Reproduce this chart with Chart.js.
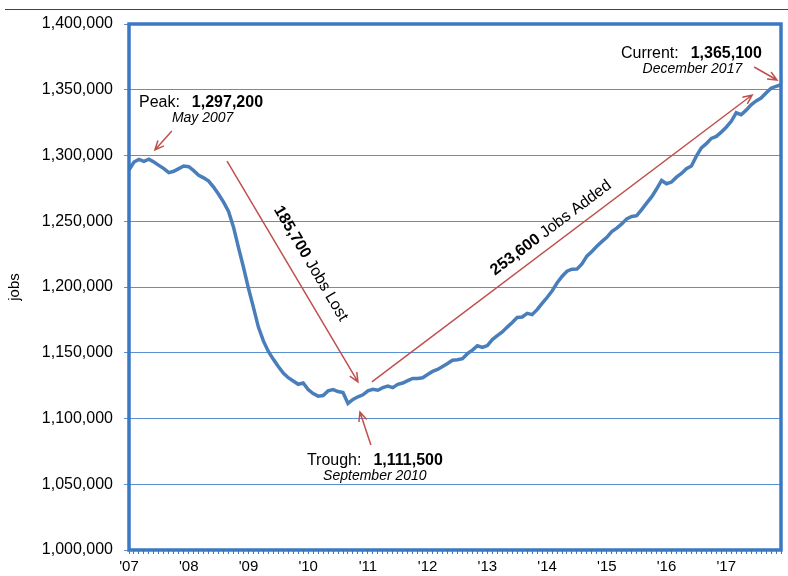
<!DOCTYPE html>
<html>
<head>
<meta charset="utf-8">
<script src="https://cdn.jsdelivr.net/npm/chart.js@4.4.1/dist/chart.umd.min.js"></script>
<style>
  html, body { margin: 0; padding: 0; background: #fff; }
  #wrap { width: 788px; height: 576px; }
</style>
</head>
<body>
<div id="wrap"><canvas id="chartJobs" width="788" height="576"></canvas></div>
<script>
// Monthly jobs, Jan 2007 - Dec 2017
const years = ['2007','2008','2009','2010','2011','2012','2013','2014','2015','2016','2017'];
const monthNames = ['Jan','Feb','Mar','Apr','May','Jun','Jul','Aug','Sep','Oct','Nov','Dec'];
const yearLabels = ["'07","'08","'09","'10","'11","'12","'13","'14","'15","'16","'17"];

const jobs2007 = [1289000, 1295000, 1297000, 1295500, 1297200, 1295000, 1292500, 1290000, 1287000, 1288000, 1290000, 1292000];
const jobs2008 = [1291500, 1288500, 1285000, 1283000, 1280500, 1276000, 1270500, 1264500, 1257500, 1245500, 1230000, 1215000];
const jobs2009 = [1199000, 1184500, 1169500, 1159000, 1151000, 1145000, 1139500, 1134500, 1131000, 1128500, 1126000, 1127000];
const jobs2010 = [1122000, 1119000, 1117000, 1117500, 1121000, 1122000, 1120500, 1119800, 1111500, 1114500, 1116500, 1118000];
const jobs2011 = [1121000, 1122200, 1121500, 1123500, 1124700, 1123500, 1126000, 1127000, 1128800, 1130500, 1130500, 1131000];
const jobs2012 = [1133500, 1135800, 1137300, 1139500, 1141800, 1144300, 1144700, 1145500, 1149300, 1152000, 1155300, 1154000];
const jobs2013 = [1155500, 1160000, 1163000, 1165800, 1169500, 1173000, 1176800, 1177200, 1180000, 1179000, 1182800, 1187500];
const jobs2014 = [1192000, 1197000, 1203000, 1208000, 1212000, 1213500, 1213600, 1217500, 1223500, 1227000, 1231000, 1234500];
const jobs2015 = [1237800, 1242200, 1244800, 1248000, 1251800, 1253600, 1254200, 1258800, 1263800, 1268500, 1274500, 1281000];
const jobs2016 = [1278500, 1279800, 1283500, 1286300, 1290000, 1292000, 1299500, 1305800, 1309000, 1313000, 1314500, 1317800];
const jobs2017 = [1321500, 1326000, 1332500, 1331000, 1334500, 1338500, 1341500, 1343700, 1347500, 1351200, 1352500, 1353800];

const jobs = [].concat(jobs2007, jobs2008, jobs2009, jobs2010, jobs2011, jobs2012,
                       jobs2013, jobs2014, jobs2015, jobs2016, jobs2017);

const months = [];
years.forEach(y => monthNames.forEach(m => months.push(m + ' ' + y)));

const FONT = 'Arial, "Liberation Sans", sans-serif';
const BLUE = '#3b78c4';
const RED = '#c0504d';

// annotation arrows, in data units [month index, jobs] -> [month index, jobs]
const arrowPeak    = [8.6, 1318600, 5.2, 1304200];
const arrowLost    = [19.7, 1295800, 46.0, 1127800];
const arrowAdded   = [48.8, 1127800, 125.2, 1346000];
const arrowTrough  = [48.6, 1079800, 46.4, 1104900];
const arrowCurrent = [125.6, 1367300, 130.2, 1357400];

function drawRuns(ctx, runs, x, y, align) {
  let total = 0;
  runs.forEach(r => { ctx.font = r.font; total += ctx.measureText(r.text).width + (r.gap || 0); });
  let cx = align === 'left' ? x : (align === 'center' ? x - total / 2 : x - total);
  runs.forEach(r => {
    ctx.font = r.font;
    ctx.fillText(r.text, cx, y);
    cx += ctx.measureText(r.text).width + (r.gap || 0);
  });
}

function drawArrow(ctx, x1, y1, x2, y2) {
  const ang = Math.atan2(y2 - y1, x2 - x1);
  const len = 10, spread = 0.42;
  ctx.beginPath();
  ctx.moveTo(x1, y1);
  ctx.lineTo(x2, y2);
  ctx.moveTo(x2 - len * Math.cos(ang - spread), y2 - len * Math.sin(ang - spread));
  ctx.lineTo(x2, y2);
  ctx.lineTo(x2 - len * Math.cos(ang + spread), y2 - len * Math.sin(ang + spread));
  ctx.stroke();
}

const notesPlugin = {
  id: 'notes',
  afterDatasetsDraw(chart) {
    const ctx = chart.ctx;
    const xs = chart.scales.x, ys = chart.scales.y;
    const a = chart.chartArea;
    const px = v => xs.getPixelForValue(v);
    const py = v => ys.getPixelForValue(v);

    ctx.save();
    // plot frame
    ctx.strokeStyle = BLUE;
    ctx.lineWidth = 3.5;
    ctx.strokeRect(a.left, a.top, a.right - a.left, a.bottom - a.top);

    // red rule at the top
    ctx.strokeStyle = '#e00000';
    ctx.lineWidth = 1.2;
    ctx.beginPath();
    ctx.moveTo(5, 9.5);
    ctx.lineTo(788, 9.5);
    ctx.stroke();

    // arrows
    ctx.strokeStyle = RED;
    ctx.lineWidth = 1.5;
    [arrowPeak, arrowLost, arrowAdded, arrowTrough, arrowCurrent].forEach(ar => {
      drawArrow(ctx, px(ar[0]), py(ar[1]), px(ar[2]), py(ar[3]));
    });

    // texts
    ctx.fillStyle = '#000';
    ctx.textBaseline = 'alphabetic';
    ctx.textAlign = 'left';
    const reg = '16px ' + FONT, bold = 'bold 16px ' + FONT, ital = 'italic 14px ' + FONT;

    drawRuns(ctx, [{ text: 'Peak:', font: reg, gap: 12 }, { text: '1,297,200', font: bold }], px(2.0), py(1336900), 'left');
    drawRuns(ctx, [{ text: 'May 2007', font: ital }], px(14.8), py(1325500), 'center');

    drawRuns(ctx, [{ text: 'Trough:', font: reg, gap: 12 }, { text: '1,111,500', font: bold }], px(49.4), py(1064600), 'center');
    drawRuns(ctx, [{ text: 'September 2010', font: ital }], px(49.4), py(1053200), 'center');

    drawRuns(ctx, [{ text: 'Current:', font: reg, gap: 12 }, { text: '1,365,100', font: bold }], px(113.0), py(1374100), 'center');
    drawRuns(ctx, [{ text: 'December 2017', font: ital }], px(113.2), py(1362700), 'center');

    // rotated labels along the long arrows
    ctx.textBaseline = 'middle';
    const rot = (ar, cxv, cyv, runs) => {
      const ang = Math.atan2(py(ar[3]) - py(ar[1]), px(ar[2]) - px(ar[0]));
      ctx.save();
      ctx.translate(px(cxv), py(cyv));
      ctx.rotate(ang);
      drawRuns(ctx, runs, 0, 0, 'center');
      ctx.restore();
    };
    rot(arrowLost, 36.5, 1217900, [{ text: '185,700', font: bold, gap: 4.5 }, { text: 'Jobs Lost', font: reg }]);
    rot(arrowAdded, 84.8, 1244900, [{ text: '253,600', font: bold, gap: 4.5 }, { text: 'Jobs Added', font: reg }]);

    ctx.restore();
  }
};

new Chart(document.getElementById('chartJobs').getContext('2d'), {
  type: 'line',
  data: {
    labels: months,
    datasets: [{
      label: 'jobs',
      data: jobs,
      borderColor: '#4a7ebb',
      borderWidth: 3.5,
      pointRadius: 0,
      tension: 0,
      fill: false
    }]
  },
  options: {
    responsive: false,
    animation: false,
    devicePixelRatio: 1,
    layout: { padding: { top: 24, right: 7, left: 0, bottom: 0 } },
    plugins: {
      legend: { display: false },
      tooltip: { enabled: false }
    },
    scales: {
      x: {
        type: 'category',
        offset: false,
        afterFit: s => { s.height = 26; },
        border: { display: false },
        grid: { drawOnChartArea: false, drawTicks: true, tickLength: 4, color: BLUE },
        ticks: {
          autoSkip: false,
          maxRotation: 0,
          minRotation: 0,
          padding: 4,
          color: '#000',
          font: { family: FONT, size: 15 },
          callback: (v, i) => (i % 12 === 0 ? yearLabels[i / 12] : '')
        }
      },
      y: {
        min: 1000000,
        max: 1400000,
        afterFit: s => { s.width = 129; },
        border: { display: false },
        grid: { color: '#5a8fd1', lineWidth: 1, tickLength: 5 },
        title: { display: true, text: 'jobs', color: '#000', font: { family: FONT, size: 15 }, padding: { top: 6, bottom: 0 } },
        ticks: {
          stepSize: 50000,
          padding: 11,
          color: '#000',
          font: { family: FONT, size: 16 },
          callback: v => v.toLocaleString('en-US')
        }
      }
    }
  },
  plugins: [notesPlugin]
});
</script>
</body>
</html>
